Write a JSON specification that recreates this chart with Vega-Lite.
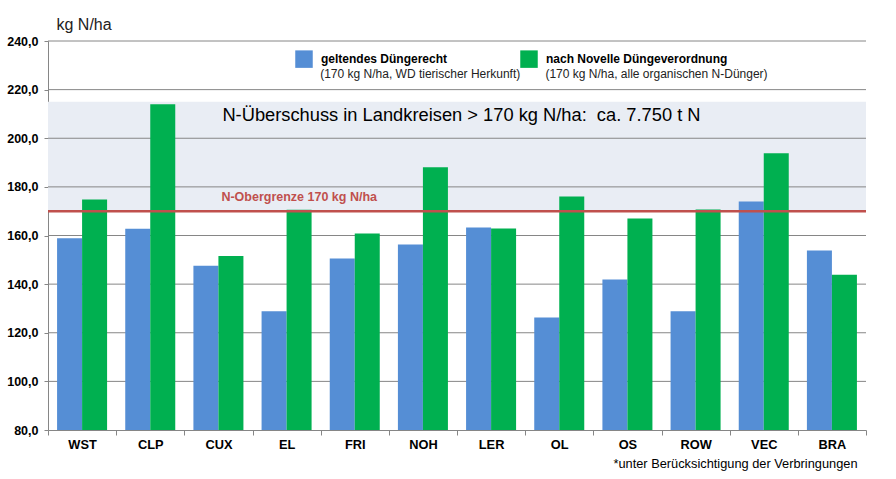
{
  "$schema": "https://vega.github.io/schema/vega-lite/v6.json",
  "autosize": {"type": "none"},
  "padding": {"left": 48, "top": 41, "right": 30, "bottom": 49},
  "width": 818,
  "height": 389,
  "background": "white",
  "config": {
    "font": "Liberation Sans",
    "view": {"stroke": null},
    "axis": {"grid": false}
  },
  "datasets": {
    "main": [
      {"Kreis": "WST", "Serie": "geltendes Düngerecht", "Wert": 158.9},
      {"Kreis": "WST", "Serie": "nach Novelle Düngeverordnung", "Wert": 174.8},
      {"Kreis": "CLP", "Serie": "geltendes Düngerecht", "Wert": 162.8},
      {"Kreis": "CLP", "Serie": "nach Novelle Düngeverordnung", "Wert": 214.0},
      {"Kreis": "CUX", "Serie": "geltendes Düngerecht", "Wert": 147.6},
      {"Kreis": "CUX", "Serie": "nach Novelle Düngeverordnung", "Wert": 151.6},
      {"Kreis": "EL", "Serie": "geltendes Düngerecht", "Wert": 128.8},
      {"Kreis": "EL", "Serie": "nach Novelle Düngeverordnung", "Wert": 170.6},
      {"Kreis": "FRI", "Serie": "geltendes Düngerecht", "Wert": 150.5},
      {"Kreis": "FRI", "Serie": "nach Novelle Düngeverordnung", "Wert": 160.8},
      {"Kreis": "NOH", "Serie": "geltendes Düngerecht", "Wert": 156.3},
      {"Kreis": "NOH", "Serie": "nach Novelle Düngeverordnung", "Wert": 188.1},
      {"Kreis": "LER", "Serie": "geltendes Düngerecht", "Wert": 163.3},
      {"Kreis": "LER", "Serie": "nach Novelle Düngeverordnung", "Wert": 162.9},
      {"Kreis": "OL", "Serie": "geltendes Düngerecht", "Wert": 126.3},
      {"Kreis": "OL", "Serie": "nach Novelle Düngeverordnung", "Wert": 176.0},
      {"Kreis": "OS", "Serie": "geltendes Düngerecht", "Wert": 141.9},
      {"Kreis": "OS", "Serie": "nach Novelle Düngeverordnung", "Wert": 167.0},
      {"Kreis": "ROW", "Serie": "geltendes Düngerecht", "Wert": 128.8},
      {"Kreis": "ROW", "Serie": "nach Novelle Düngeverordnung", "Wert": 170.7},
      {"Kreis": "VEC", "Serie": "geltendes Düngerecht", "Wert": 174.0},
      {"Kreis": "VEC", "Serie": "nach Novelle Düngeverordnung", "Wert": 193.8},
      {"Kreis": "BRA", "Serie": "geltendes Düngerecht", "Wert": 153.8},
      {"Kreis": "BRA", "Serie": "nach Novelle Düngeverordnung", "Wert": 143.9}
    ],
    "band": [{"Wert": 170, "Wert2": 215}],
    "grid": [{"Wert": 100}, {"Wert": 120}, {"Wert": 140}, {"Wert": 160}, {"Wert": 180}, {"Wert": 200}, {"Wert": 220}, {"Wert": 240}],
    "limit": [{"Wert": 170}],
    "one": [{}]
  },
  "layer": [
    {
      "data": {"name": "band"},
      "mark": {"type": "rect", "color": "#E9EDF4"},
      "encoding": {
        "y": {
          "field": "Wert", "type": "quantitative",
          "scale": {"domain": [80, 240], "zero": false, "nice": false},
          "axis": {
            "title": "kg N/ha",
            "titleAngle": 0, "titleX": 8, "titleY": -17, "titleAlign": "left", "titleBaseline": "middle",
            "titleFont": "Liberation Sans", "titleFontSize": 16, "titleFontWeight": "normal", "titleColor": "#222222",
            "values": [80, 100, 120, 140, 160, 180, 200, 220, 240],
            "labelExpr": "replace(format(datum.value, '.1f'), '.', ',')",
            "labelFont": "Liberation Sans", "labelFontSize": 12.5, "labelFontWeight": "bold", "labelColor": "#000000",
            "labelPadding": 6, "tickSize": 4, "tickColor": "#868686", "domainColor": "#868686", "domainWidth": 1
          }
        },
        "y2": {"field": "Wert2"}
      }
    },
    {
      "data": {"name": "grid"},
      "mark": {"type": "rule", "color": "#868686", "strokeWidth": 1},
      "encoding": {"y": {"field": "Wert", "type": "quantitative"}}
    },
    {
      "data": {"name": "main"},
      "mark": {"type": "bar"},
      "encoding": {
        "x": {
          "field": "Kreis", "type": "nominal", "sort": null,
          "scale": {"paddingInner": 0, "paddingOuter": 0},
          "axis": {
            "title": "*unter Berücksichtigung der Verbringungen",
            "titleX": 809, "titleY": 33, "titleAlign": "right", "titleBaseline": "middle", "titleAnchor": null,
            "titleFont": "Liberation Sans", "titleFontSize": 12.8, "titleFontWeight": "normal", "titleColor": "#000000",
            "labelAngle": 0, "labelFont": "Liberation Sans", "labelFontSize": 12.8, "labelFontWeight": "bold", "labelColor": "#000000",
            "labelPadding": 3, "tickBand": "extent", "tickSize": 5, "tickColor": "#868686", "domainColor": "#868686"
          }
        },
        "xOffset": {"field": "Serie", "type": "nominal", "scale": {"paddingInner": 0, "paddingOuter": 0.363}},
        "y": {"field": "Wert", "type": "quantitative"},
        "y2": {"datum": 80},
        "color": {
          "field": "Serie", "type": "nominal",
          "scale": {"domain": ["geltendes Düngerecht", "nach Novelle Düngeverordnung"], "range": ["#558ED5", "#00B050"]},
          "legend": {
            "title": null, "orient": "none", "direction": "horizontal",
            "legendX": 247, "legendY": 9, "padding": 0,
            "symbolType": "square", "symbolSize": 306, "symbolStrokeWidth": 0, "symbolOpacity": 1,
            "labelFont": "Liberation Sans", "labelFontSize": 12, "labelFontWeight": "bold", "labelColor": "#000000",
            "labelOffset": 8, "columnPadding": 72, "labelLimit": 300
          }
        }
      }
    },
    {
      "data": {"name": "limit"},
      "mark": {"type": "rule", "color": "#C0504D", "strokeWidth": 2.6},
      "encoding": {"y": {"field": "Wert", "type": "quantitative"}}
    },
    {
      "data": {"name": "one"},
      "mark": {"type": "text", "text": "N-Überschuss in Landkreisen > 170 kg N/ha:\u00a0 ca. 7.750 t N", "align": "left", "baseline": "middle", "dx": 4, "fontSize": 18.3, "color": "#000000"},
      "encoding": {"x": {"datum": "CUX"}, "y": {"datum": 209.3}}
    },
    {
      "data": {"name": "one"},
      "mark": {"type": "text", "text": "N-Obergrenze 170 kg N/ha", "align": "left", "baseline": "middle", "dx": 3, "fontSize": 12.5, "fontWeight": "bold", "color": "#C0504D"},
      "encoding": {"x": {"datum": "CUX"}, "y": {"datum": 175.8}}
    },
    {
      "data": {"name": "one"},
      "mark": {"type": "text", "text": "(170 kg N/ha, WD tierischer Herkunft)", "align": "left", "baseline": "middle", "dx": 33.6, "fontSize": 12, "color": "#222222"},
      "encoding": {"x": {"datum": "EL"}, "y": {"datum": 226.3}}
    },
    {
      "data": {"name": "one"},
      "mark": {"type": "text", "text": "(170 kg N/ha, alle organischen N-Dünger)", "align": "left", "baseline": "middle", "dx": -13.8, "fontSize": 12, "color": "#222222"},
      "encoding": {"x": {"datum": "OL"}, "y": {"datum": 226.3}}
    }
  ]
}
